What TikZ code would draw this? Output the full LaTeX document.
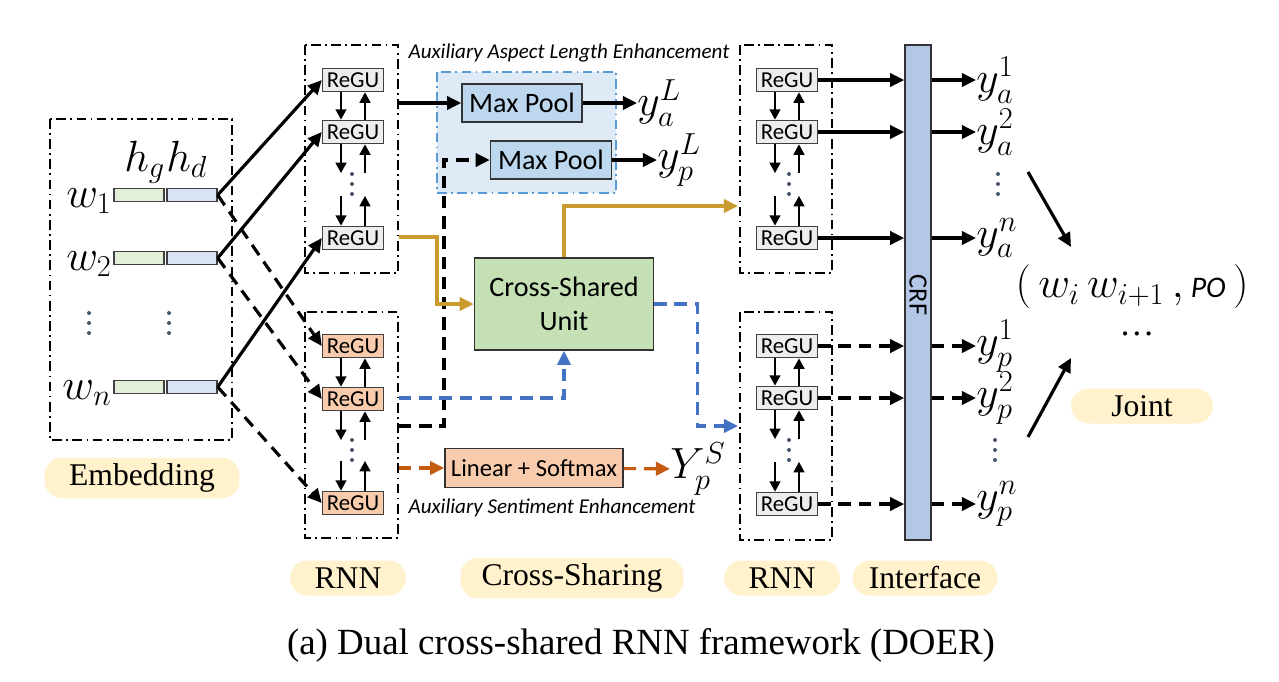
\documentclass[tikz,border=0pt]{standalone}
\usepackage{fontspec}
\setmainfont{Liberation Serif}
\newfontfamily\calfont{Carlito}
\usetikzlibrary{arrows.meta}

\definecolor{regugray}{HTML}{EDEDED}
\definecolor{salmon}{HTML}{F8CBAD}
\definecolor{embgreen}{HTML}{E2F0D9}
\definecolor{embblue}{HTML}{DAE3F3}
\definecolor{poolblue}{HTML}{BDD7EE}
\definecolor{auxfill}{HTML}{DEEBF7}
\definecolor{auxline}{HTML}{5B9BD5}
\definecolor{csugreen}{HTML}{C5E0B4}
\definecolor{crfblue}{HTML}{B4C7E7}
\definecolor{pillc}{HTML}{FFF2CC}
\definecolor{gold}{HTML}{C99A2E}
\definecolor{dblue}{HTML}{4472C4}
\definecolor{rust}{HTML}{C55A11}
\definecolor{dotc}{HTML}{44546A}

\begin{document}
\begin{tikzpicture}[x=0.02cm, y=-0.02cm,
  >={Triangle[length=8pt,width=7.5pt]},
  arr/.style = {line width=1.8pt},
  varr/.style = {line width=1.6pt, >={Triangle[length=6pt,width=6pt]}},
  dsh/.style = {line width=1.8pt, dash pattern=on 7pt off 4.5pt},
  dbox/.style = {line width=1.2pt, dash pattern=on 5.5pt off 2.5pt on 1pt off 2.5pt},
  regu/.style = {draw=black!75, line width=0.8pt, fill=regugray, minimum width=1.22cm, minimum height=0.46cm, inner sep=0pt, font=\calfont\fontsize{13}{13}\selectfont},
  sregu/.style = {regu, fill=salmon},
  bar/.style = {draw=black!75, line width=0.8pt, minimum width=1cm, minimum height=0.26cm, inner sep=0pt},
  pool/.style = {draw=black!80, line width=0.9pt, fill=poolblue, minimum width=2.4cm, minimum height=0.76cm, font=\calfont\fontsize{16}{16}\selectfont},
  pill/.style = {fill=pillc, rounded corners=0.35cm, minimum height=0.7cm, font=\fontsize{18}{18}\selectfont},
  ylab/.style = {inner sep=0pt, anchor=west, font=\fontsize{23}{23}\selectfont},
  aux/.style = {font=\calfont\itshape\fontsize{12}{12}\selectfont}]

\useasboundingbox (0,0) rectangle (1279,681);

% dash-dot frames
\draw[dbox] (50,119) rectangle (232,440);
\draw[dbox] (305,45) rectangle (398,273);
\draw[dbox] (305,312) rectangle (398,538);
\draw[dbox] (740,45) rectangle (832,273);
\draw[dbox] (740,312) rectangle (832,540);
\draw[line width=1.1pt, draw=auxline, fill=auxfill, dash pattern=on 5.5pt off 2.5pt on 1pt off 2.5pt] (437,72) rectangle (616,193);

% embedding
\node[anchor=base east, inner sep=0pt, font=\fontsize{24}{24}\selectfont] (w1) at (112,207) {$w_1$};
\node[anchor=base east, inner sep=0pt, font=\fontsize{24}{24}\selectfont] (w2) at (112,270) {$w_2$};
\node[anchor=base east, inner sep=0pt, font=\fontsize{24}{24}\selectfont] (wn) at (112,399) {$w_n$};
\node[anchor=base west, inner sep=0pt, font=\fontsize{26}{26}\selectfont] (hg) at (124,171) {$h_g$};
\node[anchor=base west, inner sep=0pt, font=\fontsize{26}{26}\selectfont] (hd) at (166,171) {$h_d$};
\node[bar, fill=embgreen] (g1) at (139,195) {};
\node[bar, fill=embblue] (b1) at (192,195) {};
\node[bar, fill=embgreen] (g2) at (139,258) {};
\node[bar, fill=embblue] (b2) at (192,258) {};
\node[bar, fill=embgreen] (gn) at (139,387) {};
\node[bar, fill=embblue] (bn) at (192,387) {};

% RNN columns
\node[regu] (la1) at (353,80) {ReGU};
\node[regu] (la2) at (353,132) {ReGU};
\node[regu] (la3) at (353,238) {ReGU};
\node[sregu] (lp1) at (353,346) {ReGU};
\node[sregu] (lp2) at (353,399) {ReGU};
\node[sregu] (lp3) at (353,503) {ReGU};
\node[regu] (ra1) at (787,80) {ReGU};
\node[regu] (ra2) at (787,132) {ReGU};
\node[regu] (ra3) at (787,238) {ReGU};
\node[regu] (rp1) at (787,346) {ReGU};
\node[regu] (rp2) at (787,398) {ReGU};
\node[regu] (rp3) at (787,504) {ReGU};

\foreach \c in {la,lp,ra,rp}{
  \draw[varr,->] ([xshift=-0.24cm]\c1.south) -- ([xshift=-0.24cm]\c2.north);
  \draw[varr,<-] ([xshift=0.24cm]\c1.south) -- ([xshift=0.24cm]\c2.north);
  \draw[varr,->] ([xshift=-0.24cm]\c2.south) -- ++(0,29);
  \draw[varr,<-] ([xshift=0.24cm]\c2.south) -- ++(0,29);
  \draw[varr,<-] ([xshift=-0.24cm]\c3.north) -- ++(0,-30);
  \draw[varr,->] ([xshift=0.24cm]\c3.north) -- ++(0,-30);
}

% dots
\foreach \x/\y in {89/323, 169/323, 352/184, 352/450, 789/184, 789/450, 998/184, 995/450}
  \foreach \d in {-10,0,10}
    \fill[dotc] (\x,\y+\d) circle (0.04cm);

% embedding -> RNN
\draw[arr,->] (b1.east) -- (la1.west);
\draw[arr,->] (b2.east) -- (la2.west);
\draw[arr,->] (bn.east) -- (la3.west);
\draw[dsh,->] (b1.east) -- (lp1.west);
\draw[dsh,->] (b2.east) -- (lp2.west);
\draw[dsh,->] (bn.east) -- (lp3.west);

% cross-sharing
\node[pool] (mp1) at (522,103) {Max Pool};
\node[pool, minimum width=2.42cm] (mp2) at (551,160) {Max Pool};
\node[ylab] (yaL) at (637,103) {$y_a^L$};
\node[ylab] (ypL) at (657,160) {$y_p^L$};
\node[draw=black!80, line width=0.9pt, fill=csugreen, minimum width=3.58cm, minimum height=1.84cm, align=center, font=\calfont\fontsize{16}{19}\selectfont] (csu) at (564,304) {Cross-Shared\\Unit};
\node[draw=black!80, line width=0.9pt, fill=salmon, minimum width=3.56cm, minimum height=0.78cm, font=\calfont\fontsize{14}{14}\selectfont] (ls) at (534,468) {Linear + Softmax};
\node[ylab] (yS) at (670,469) {$Y_p^S$};
\node[aux] (auxA) at (569,53) {Auxiliary Aspect Length Enhancement};
\node[aux] (auxS) at (552,508) {Auxiliary Sentiment Enhancement};

\coordinate (c1) at (399,103);
\coordinate (o1) at (399,237);
\coordinate (o2) at (738,206);
\coordinate (b3) at (399,398);
\coordinate (b4) at (738,426);
\coordinate (d1) at (399,426);
\coordinate (r1) at (399,468);

\draw[arr,->] (c1) -- (mp1);
\draw[arr,->] (mp1) -- (yaL);
\draw[arr,->] (mp2) -- (ypL);
\draw[dsh,->] (d1) -- ++(45,0) |- (mp2);
\draw[arr,gold,->] (o1) -- ++(38,0) |- (csu);
\draw[arr,gold,->] (csu.north) |- (o2);
\draw[dsh,dblue,->] (b3) -| (csu.south);
\draw[dsh,dblue,->] (csu.east) -- ++(43,0) |- (b4);
\draw[dsh,rust,->] (r1) -- (ls);
\draw[dsh,rust,->] (ls) -- (yS);

% CRF and outputs
\node[draw=black!80, line width=0.9pt, fill=crfblue, minimum width=0.52cm, minimum height=9.9cm, inner sep=0pt] (crf) at (918,292.5) {};
\node[rotate=-90, font=\calfont\fontsize{15}{15}\selectfont] (crft) at (918,295) {CRF};
\node[ylab] (ya1) at (976,80) {$y_a^1$};
\node[ylab] (ya2) at (976,132) {$y_a^2$};
\node[ylab] (ya3) at (976,238) {$y_a^n$};
\node[ylab] (yp1) at (976,346) {$y_p^1$};
\node[ylab] (yp2) at (976,398) {$y_p^2$};
\node[ylab] (yp3) at (976,504) {$y_p^n$};

\foreach \i in {1,2,3}{
  \draw[arr,->] (ra\i.east) -- (ra\i.east -| crf.west);
  \draw[arr,->] (ra\i.east -| crf.east) -- (ya\i);
  \draw[dsh,->] (rp\i.east) -- (rp\i.east -| crf.west);
  \draw[dsh,->] (rp\i.east -| crf.east) -- (yp\i);
}

\node[font=\fontsize{24}{24}\selectfont, inner sep=0pt] (tup) at (1132,287) {$\big(\,w_i\,w_{i+1}\,,$\,{\calfont\itshape\fontsize{17}{17}\selectfont PO}$\,\big)$};
\node[font=\fontsize{20}{20}\selectfont, inner sep=0pt] (more) at (1137,334) {\ldots};
\coordinate (j1) at (1028,172);
\coordinate (j2) at (1071,247);
\coordinate (j3) at (1028,437);
\coordinate (j4) at (1071,358);
\draw[arr,->] (j1) -- (j2);
\draw[arr,->] (j3) -- (j4);

% stage labels
\node[pill, minimum width=3.9cm] (emb) at (142,478) {Embedding};
\node[pill, minimum width=2.32cm] (rnn1) at (348,578) {RNN};
\node[pill, minimum width=4.46cm] (cs) at (572,578) {Cross-Sharing};
\node[pill, minimum width=2.32cm] (rnn2) at (782,578) {RNN};
\node[pill, minimum width=2.9cm] (intf) at (925,578) {Interface};
\node[pill, minimum width=2.84cm] (joint) at (1142,406) {Joint};

\node[font=\fontsize{21}{21}\selectfont] (cap) at (641,645) {(a) Dual cross-shared RNN framework (DOER)};
\end{tikzpicture}
\end{document}
